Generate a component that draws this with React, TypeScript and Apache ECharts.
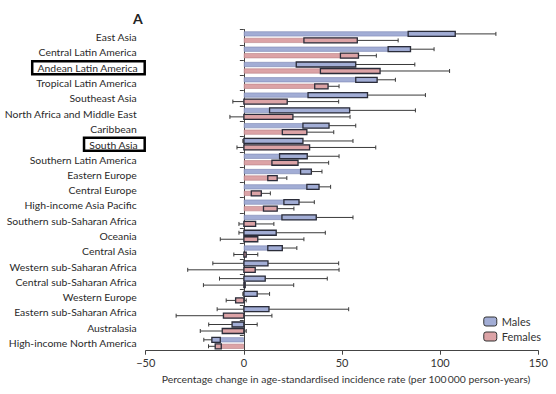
import React, { useEffect, useRef } from "react";
import * as echarts from "echarts";

const categories = [
  "East Asia",
  "Central Latin America",
  "Andean Latin America",
  "Tropical Latin America",
  "Southeast Asia",
  "North Africa and Middle East",
  "Caribbean",
  "South Asia",
  "Southern Latin America",
  "Eastern Europe",
  "Central Europe",
  "High-income Asia Pacific",
  "Southern sub-Saharan Africa",
  "Oceania",
  "Central Asia",
  "Western sub-Saharan Africa",
  "Central sub-Saharan Africa",
  "Western Europe",
  "Eastern sub-Saharan Africa",
  "Australasia",
  "High-income North America",
];
const highlighted = ["Andean Latin America", "South Asia"];

const malesMean = [107.7, 84.9, 57.0, 67.9, 63.0, 53.9, 43.4, 30.1, 32.3, 34.4, 38.3, 28.1, 36.9, 16.5, 19.6, 12.3, 10.9, 6.8, 12.8, -6.0, -16.3];
const malesLower = [83.7, 73.5, 26.7, 57.0, 32.7, 13.1, 30.1, -0.5, 18.2, 28.9, 32.1, 20.4, 19.4, -2.5, 12.2, -15.8, -12.4, -0.5, -13.6, -17.9, -20.4];
const malesUpper = [128.4, 96.9, 87.1, 77.2, 92.5, 87.4, 57.0, 55.6, 48.5, 39.8, 44.2, 35.9, 55.6, 41.5, 27.0, 48.3, 42.5, 13.1, 53.4, 6.8, -12.0];

const femalesMean = [57.8, 58.4, 69.4, 42.9, 22.1, 25.0, 32.1, 33.5, 27.6, 17.0, 8.9, 17.0, 6.0, 7.1, 1.2, 5.8, 0.7, -4.2, -10.4, -11.0, -14.6];
const femalesLower = [30.6, 49.2, 39.0, 36.1, -5.6, -7.1, 19.6, -3.5, 14.3, 12.2, 3.8, 10.0, -2.5, -12.0, -5.1, -28.6, -20.6, -9.0, -34.5, -22.2, -18.0];
const femalesUpper = [78.6, 67.5, 104.8, 48.5, 48.3, 54.1, 45.8, 67.2, 43.2, 21.9, 13.5, 25.5, 15.3, 30.6, 7.1, 48.5, 25.4, 1.2, 14.3, 1.2, -11.5];

const FONT = "Lato";
const BAR_W = 5;
const OFFSET = 3.25;

function makeCI(offset: number) {
  return (params: any, api: any) => {
    const idx = api.value(1);
    const mean = api.value(0);
    const lo = api.value(2);
    const hi = api.value(3);
    const c0 = api.coord([0, idx]);
    const yc = c0[1] + offset;
    const x0 = c0[0];
    const xm = api.coord([mean, idx])[0];
    const xl = api.coord([lo, idx])[0];
    const xh = api.coord([hi, idx])[0];
    const h = BAR_W;
    const children: any[] = [];
    const lineStyle = { stroke: "#3a3a3a", lineWidth: 1 };
    const boxStyle = { stroke: "#2b2d3a", lineWidth: 1.3, fill: "none" };
    const whisker = (x: number) => ({
      type: "line",
      shape: { x1: x, y1: yc - 2, x2: x, y2: yc + 2 },
      style: lineStyle,
    });
    if (mean >= 0) {
      const bl = api.coord([Math.max(lo, 0), idx])[0];
      children.push({ type: "rect", shape: { x: bl, y: yc - h / 2, width: xm - bl, height: h }, style: boxStyle });
      children.push({ type: "line", shape: { x1: xm, y1: yc, x2: xh, y2: yc }, style: lineStyle });
      children.push(whisker(xh));
      if (lo < 0) {
        children.push({ type: "line", shape: { x1: x0, y1: yc, x2: xl, y2: yc }, style: lineStyle });
        children.push(whisker(xl));
      }
    } else {
      const br = api.coord([Math.min(hi, 0), idx])[0];
      children.push({ type: "rect", shape: { x: xm, y: yc - h / 2, width: br - xm, height: h }, style: boxStyle });
      children.push({ type: "line", shape: { x1: xm, y1: yc, x2: xl, y2: yc }, style: lineStyle });
      children.push(whisker(xl));
      if (hi > 0) {
        children.push({ type: "line", shape: { x1: x0, y1: yc, x2: xh, y2: yc }, style: lineStyle });
        children.push(whisker(xh));
      }
    }
    return { type: "group", children };
  };
}

export default function App() {
  const ref = useRef<HTMLDivElement>(null);
  useEffect(() => {
    if (!ref.current) return;
    const chart = echarts.init(ref.current, undefined, { renderer: "svg" });
    const maleCI = categories.map((_, i) => [malesMean[i], i, malesLower[i], malesUpper[i]]);
    const femaleCI = categories.map((_, i) => [femalesMean[i], i, femalesLower[i], femalesUpper[i]]);
    chart.setOption({
      animation: false,
      title: {
        text: "A",
        left: 128,
        top: 6,
        textStyle: { fontFamily: FONT, fontSize: 14, fontWeight: "bold", color: "#222" },
      },
      grid: {
        left: 145.7,
        right: 17.7,
        top: 29.5,
        bottom: 43.3,
        containLabel: false,
        outerBoundsMode: "none",
      },
      legend: {
        orient: "vertical",
        right: 10,
        top: 311,
        itemWidth: 13,
        itemHeight: 9,
        itemGap: 4,
        data: ["Males", "Females"],
        textStyle: { fontFamily: FONT, fontSize: 11, color: "#333" },
        itemStyle: { borderColor: "#333", borderWidth: 1 },
      },
      xAxis: {
        type: "value",
        min: -50,
        max: 150,
        interval: 50,
        splitLine: { show: false },
        axisLine: { show: true, lineStyle: { color: "#444", width: 1 } },
        axisTick: { show: true, length: 4, lineStyle: { color: "#444" } },
        axisLabel: {
          margin: 6,
          fontFamily: FONT,
          fontSize: 11,
          color: "#333",
          formatter: (v: number) => (v < 0 ? "\u2212" + Math.abs(v) : String(v)),
        },
        name: "Percentage change in age-standardised incidence rate (per 100\u2009000 person-years)",
        nameLocation: "middle",
        nameGap: 23,
        nameTextStyle: { fontFamily: FONT, fontSize: 10.4, color: "#333", padding: [0, 0, 0, 8] },
      },
      yAxis: {
        type: "category",
        inverse: true,
        data: categories,
        axisLine: { show: true, lineStyle: { color: "#444", width: 1 } },
        axisTick: { show: true, length: 4, lineStyle: { color: "#444" } },
        axisLabel: {
          margin: 1,
          fontFamily: FONT,
          fontSize: 10.4,
          color: "#2a2a2a",
          formatter: (v: string) => (highlighted.includes(v) ? `{hl|${v}}` : `{n|${v}}`),
          rich: {
            n: { fontFamily: FONT, fontSize: 10.4, color: "#2a2a2a", padding: [0, 8, 0, 0] },
            hl: {
              fontFamily: FONT,
              fontSize: 10.4,
              color: "#2a2a2a",
              padding: [2, 7, 1, 5],
              borderColor: "#000",
              borderWidth: 2.5,
            },
          },
        },
      },
      series: [
        {
          name: "Males",
          type: "bar",
          data: malesMean,
          barWidth: BAR_W,
          barGap: "30%",
          itemStyle: { color: "#a2add5", borderColor: "#7c87b2", borderWidth: 0.6 },
        },
        {
          name: "Females",
          type: "bar",
          data: femalesMean,
          barWidth: BAR_W,
          barGap: "30%",
          itemStyle: { color: "#dca3a6", borderColor: "#b88084", borderWidth: 0.6 },
        },
        {
          name: "Males CI",
          type: "custom",
          data: maleCI,
          encode: { x: [0, 2, 3], y: 1 },
          renderItem: makeCI(-OFFSET),
          z: 5,
        },
        {
          name: "Females CI",
          type: "custom",
          data: femaleCI,
          encode: { x: [0, 2, 3], y: 1 },
          renderItem: makeCI(OFFSET),
          z: 5,
        },
      ],
    });
    return () => chart.dispose();
  }, []);
  return (
    <div
      ref={ref}
      style={{ position: "fixed", left: 0, top: 0, width: 556, height: 394, background: "#fff" }}
    />
  );
}
